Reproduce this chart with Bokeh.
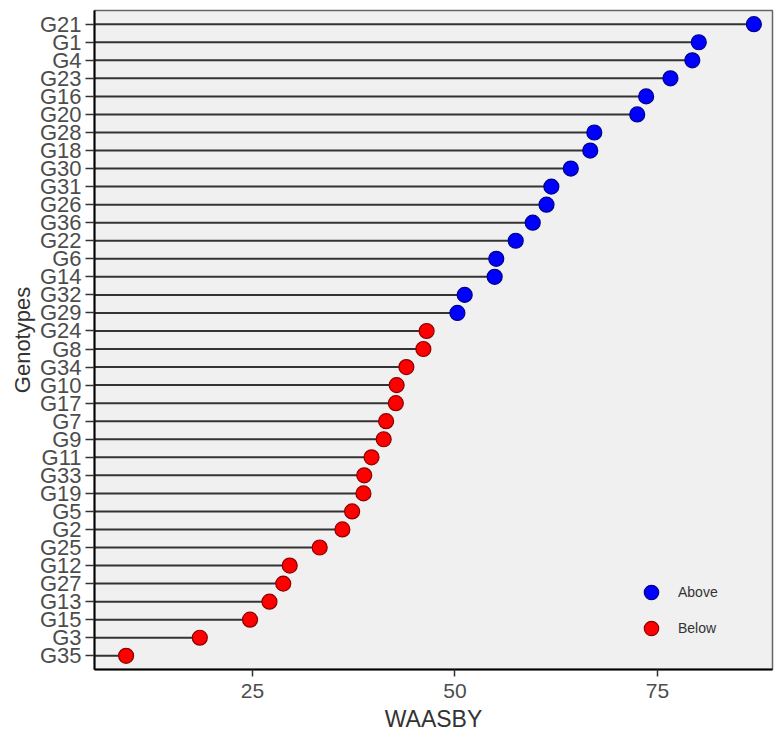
from bokeh.plotting import figure
from bokeh.models import ColumnDataSource, FactorRange, FixedTicker, Legend, LegendItem
from bokeh.embed import file_html
from bokeh.resources import INLINE

# Data (top to bottom as shown)
genotypes = ["G21", "G1", "G4", "G23", "G16", "G20", "G28", "G18", "G30", "G31",
             "G26", "G36", "G22", "G6", "G14", "G32", "G29", "G24", "G8", "G34",
             "G10", "G17", "G7", "G9", "G11", "G33", "G19", "G5", "G2", "G25",
             "G12", "G27", "G13", "G15", "G3", "G35"]
waasby = [86.9, 80.1, 79.3, 76.6, 73.6, 72.5, 67.2, 66.7, 64.3, 61.9,
          61.3, 59.6, 57.5, 55.1, 54.9, 51.2, 50.3, 46.5, 46.1, 44.0,
          42.8, 42.7, 41.5, 41.2, 39.7, 38.8, 38.7, 37.3, 36.1, 33.3,
          29.6, 28.8, 27.1, 24.7, 18.5, 9.4]
groups = ["Above"] * 17 + ["Below"] * 19
x_ticks = [25, 50, 75]

fill_map = {"Above": "#0000ff", "Below": "#ff0000"}
line_map = {"Above": "#00008b", "Below": "#8b0000"}

src = ColumnDataSource(dict(g=genotypes, v=waasby, x0=[0] * len(genotypes)))

factors = list(reversed(genotypes))
p = figure(width=775, height=736, output_backend="svg", toolbar_location=None,
           y_range=FactorRange(factors=factors, range_padding=0.26, range_padding_units="absolute"),
           x_range=(5.5, 89.2),
           min_border_left=94, min_border_right=3, min_border_top=10, min_border_bottom=67)

p.background_fill_color = "#f0f0f0"
p.border_fill_color = "white"
p.outline_line_color = "#666666"
p.outline_line_width = 1.5
p.xgrid.visible = False
p.ygrid.visible = False

p.segment(x0="x0", y0="g", x1="v", y1="g", source=src, line_color="#333333", line_width=2)

above = ColumnDataSource(dict(g=[g for g, k in zip(genotypes, groups) if k == "Above"],
                              v=[v for v, k in zip(waasby, groups) if k == "Above"]))
below = ColumnDataSource(dict(g=[g for g, k in zip(genotypes, groups) if k == "Below"],
                              v=[v for v, k in zip(waasby, groups) if k == "Below"]))
r1 = p.scatter(x="v", y="g", source=above, size=15, fill_color=fill_map["Above"],
               line_color=line_map["Above"], line_width=1.2)
r2 = p.scatter(x="v", y="g", source=below, size=15, fill_color=fill_map["Below"],
               line_color=line_map["Below"], line_width=1.2)

legend = Legend(items=[LegendItem(label="Above", renderers=[r1]),
                       LegendItem(label="Below", renderers=[r2])],
                location=(529, 13), background_fill_alpha=0, border_line_alpha=0,
                label_text_font="Liberation Sans", label_text_font_size="14px",
                label_text_color="#333333", glyph_width=36, glyph_height=36,
                spacing=-2, label_standoff=9)
p.add_layout(legend)

p.xaxis.ticker = FixedTicker(ticks=x_ticks)
for ax in (p.xaxis[0], p.yaxis[0]):
    ax.axis_line_color = "black"
    ax.axis_line_width = 2
    ax.major_tick_line_color = "#333333"
    ax.major_tick_line_width = 1.5
    ax.minor_tick_line_color = None
    ax.major_tick_in = 0
    ax.major_label_text_font = "Liberation Sans"
    ax.major_label_text_color = "#4d4d4d"
    ax.axis_label_text_font = "Liberation Sans"
    ax.axis_label_text_font_style = "normal"
    ax.axis_label_text_color = "#333333"

p.xaxis.major_tick_out = 7
p.xaxis.major_label_text_font_size = "21px"
p.xaxis.axis_label = "WAASBY"
p.xaxis.axis_label_text_font_size = "23px"
p.xaxis.axis_label_standoff = 5
p.xaxis.major_label_standoff = 7

p.yaxis.major_tick_out = 9
p.yaxis.major_label_text_font_size = "22px"
p.yaxis.major_label_standoff = 4
p.yaxis.axis_label = "Genotypes"
p.yaxis.axis_label_text_font_size = "22px"
p.yaxis.axis_label_standoff = 2

open("out.html", "w").write(file_html(p, INLINE))
